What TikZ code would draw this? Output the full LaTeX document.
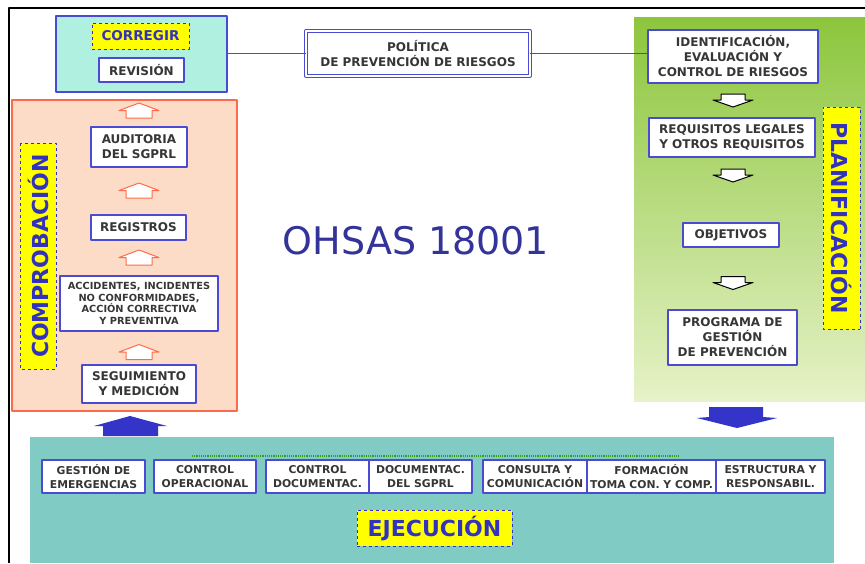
\documentclass[tikz,border=0pt]{standalone}
\usepackage{fontspec}
\setmainfont{DejaVu Sans}
\definecolor{boxblue}{HTML}{4A4AD2}
\definecolor{lblblue}{HTML}{3232BE}
\definecolor{txtgray}{HTML}{363636}
\definecolor{lblyellow}{HTML}{FFFF00}
\definecolor{corrfill}{HTML}{B0F0E0}
\definecolor{compfill}{HTML}{FCDCC6}
\definecolor{compline}{HTML}{FF6A4A}
\definecolor{ejecfill}{HTML}{80CCC4}
\definecolor{plantop}{HTML}{8CC63C}
\definecolor{planbot}{HTML}{E6F2C8}
\definecolor{bigarrow}{HTML}{3434C8}
\definecolor{ohsasblue}{HTML}{333399}
\definecolor{dotgreen}{HTML}{3C9A1E}
\begin{document}
\begin{tikzpicture}[x=1pt,y=-1pt,line join=round,
		box/.style={draw=boxblue,line width=1.2pt,fill=white,text=txtgray,align=center,inner sep=0pt,font=\bfseries\fontsize{12}{15}\selectfont},
		lbl/.style={draw=lblblue,dashed,line width=1pt,fill=lblyellow,text=lblblue,inner sep=0pt,font=\bfseries\fontsize{22}{24}\selectfont},
		sz/.style 2 args={minimum width=#1pt,minimum height=#2pt},
		upar/.pic={\draw[compline,fill=white,line width=1pt] (0,-7.5)--(20,0)--(13,0)--(13,7.5)--(-13,7.5)--(-13,0)--(-20,0)--cycle;},
		dnar/.pic={\draw[black,fill=white,line width=1pt] (0,6.5)--(20,-0.5)--(12,-0.5)--(12,-6.5)--(-12,-6.5)--(-12,-0.5)--(-20,-0.5)--cycle;}]
	\useasboundingbox (0,0) rectangle (865,563);
	\fill[white] (0,0) rectangle (865,563);
	\draw[line width=1.5pt] (9,563)--(9,8)--(865,8);
	
	\node[draw=boxblue,line width=1.2pt,fill=corrfill,sz={171}{76}] (corr) at (141.5,54) {};
	\node[draw=compline,line width=1.2pt,fill=compfill,sz={225}{311}] (comp) at (124.5,255.5) {};
	\node[shade,top color=plantop,bottom color=planbot,sz={231}{384},inner sep=0pt] (plan) at (749.5,209) {};
	\node[fill=ejecfill,sz={804}{126},inner sep=0pt] (ejec) at (432,500) {};
	\draw[dotgreen,densely dotted,line width=1.2pt] (192,456)--(680,456);
	
	\node[box,sz={224}{45},double=white,double distance=1.5pt,line width=0.9pt] (pol) at (418,53.5) {POLÍTICA\\DE PREVENCIÓN DE RIESGOS};
	\node[box,sz={170}{53}] (ident) at (733,56.5) {IDENTIFICACIÓN,\\EVALUACIÓN Y\\CONTROL DE RIESGOS};
	\draw[boxblue,line width=1.2pt] (corr.east |- pol.west)--(pol.west);
	\draw[boxblue,line width=1.2pt] (pol.east)--(ident.west |- pol.east);
	
	\node[lbl,sz={97}{26},font=\bfseries\fontsize{13.5}{15}\selectfont] (corregir) at (140.5,36) {CORREGIR};
	\node[box,sz={85}{24}] (revision) at (141.5,70) {REVISIÓN};
	
	\node[lbl,rotate=90,sz={226}{36}] (comprob) at (38,256) {COMPROBACIÓN};
	\node[box,sz={96}{40}] (auditoria) at (139,147) {AUDITORIA\\DEL SGPRL};
	\node[box,sz={95}{25}] (registros) at (138.5,227.5) {REGISTROS};
	\node[box,sz={158}{55},font=\bfseries\fontsize{9.8}{11.5}\selectfont] (accid) at (139,303.5) {ACCIDENTES, INCIDENTES\\NO CONFORMIDADES,\\ACCIÓN CORRECTIVA\\Y PREVENTIVA};
	\node[box,sz={114}{38}] (seguim) at (139,384) {SEGUIMIENTO\\Y MEDICIÓN};
	\foreach \y in {110.5,190.5,257.5,352} \pic at (139,\y) {upar};
	
	\node[lbl,rotate=-90,sz={222}{37}] (planif) at (841.5,218) {PLANIFICACIÓN};
	\node[box,sz={166}{39}] (requis) at (732,137.5) {REQUISITOS LEGALES\\Y OTROS REQUISITOS};
	\node[box,sz={96}{24}] (objet) at (731,235) {OBJETIVOS};
	\node[box,sz={129}{55}] (progr) at (732.5,337.5) {PROGRAMA DE\\GESTIÓN\\DE PREVENCIÓN};
	\foreach \y in {100.5,175.5,283} \pic at (733,\y) {dnar};
	
	\fill[bigarrow] (130,416)--(167,426)--(158,426)--(158,436)--(103,436)--(103,426)--(94,426)--cycle;
	\fill[bigarrow] (709,407)--(763,407)--(763,417)--(777,418)--(737,428)--(697,418)--(709,417)--cycle;
	
	\node[text=ohsasblue,font=\fontsize{38}{40}\selectfont] (ohsas) at (416,241) {OHSAS 18001};
	
	\begin{scope}[every node/.append style={box,font=\bfseries\fontsize{10.8}{13.3}\selectfont}]
		\node[sz={103}{33}] (gestion) at (93.5,476.5) {GESTIÓN DE\\EMERGENCIAS};
		\node[sz={102}{33}] (operac) at (205,476.5) {CONTROL\\OPERACIONAL};
		\node[sz={103}{33}] (ctrldoc) at (317.5,476.5) {CONTROL\\DOCUMENTAC.};
		\node[sz={103}{33}] (docsgprl) at (420.5,476.5) {DOCUMENTAC.\\DEL SGPRL};
		\node[sz={104}{33}] (consulta) at (535,476.5) {CONSULTA Y\\COMUNICACIÓN};
		\node[sz={129}{33}] (formac) at (651.5,476.5) {FORMACIÓN\\TOMA CON. Y COMP.};
		\node[sz={109}{33}] (estruct) at (770.5,476.5) {ESTRUCTURA  Y\\RESPONSABIL.};
	\end{scope}
	\node[lbl,sz={155}{36}] (ejecucion) at (434.5,528) {EJECUCIÓN};
\end{tikzpicture}
\end{document}
